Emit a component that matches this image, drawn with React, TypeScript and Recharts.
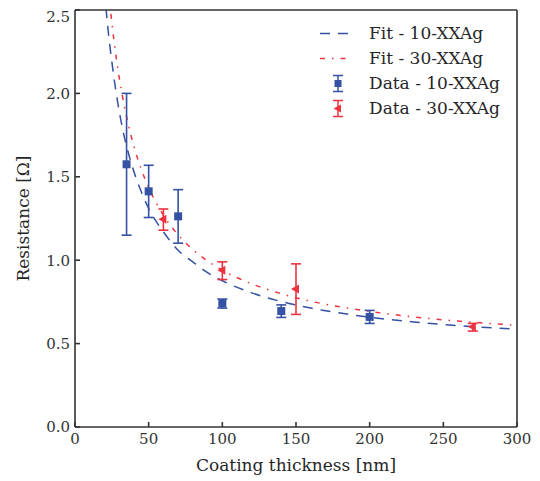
import React from 'react';
import { ComposedChart, Line, Scatter, XAxis, YAxis, ErrorBar, Legend, Label } from 'recharts';

const FONT = '"DejaVu Serif", serif';
const BLUE = '#3451a3';
const RED = '#ec3340';
const AXIS = '#333333';

// Fit curves
const fitX10 = [20, 22, 25, 28, 32, 36, 40, 45, 50, 60, 70, 80, 90, 100, 120, 140, 160, 180, 200, 230, 260, 300];
const fitY10 = [2.62, 2.42, 2.19, 2.0, 1.8, 1.65, 1.53, 1.41, 1.31, 1.17, 1.06, 0.99, 0.925, 0.877, 0.804, 0.752, 0.713, 0.683, 0.658, 0.63, 0.608, 0.586];
const fitX30 = [23, 25, 28, 32, 36, 40, 45, 50, 60, 70, 80, 90, 100, 120, 140, 160, 180, 200, 230, 260, 300];
const fitY30 = [2.6, 2.425, 2.213, 1.992, 1.82, 1.683, 1.545, 1.435, 1.27, 1.152, 1.064, 0.995, 0.94, 0.858, 0.799, 0.754, 0.72, 0.693, 0.66, 0.635, 0.61];

// Measured data
const dataX10 = [35, 50, 70, 100, 140, 200];
const dataY10 = [1.575, 1.413, 1.263, 0.741, 0.695, 0.66];
const errLow10 = [0.425, 0.157, 0.161, 0.028, 0.038, 0.039];
const errHigh10 = [0.425, 0.156, 0.16, 0.026, 0.037, 0.039];

const dataX30 = [60, 100, 150, 270];
const dataY30 = [1.246, 0.94, 0.828, 0.601];
const errLow30 = [0.066, 0.056, 0.153, 0.026];
const errHigh30 = [0.061, 0.05, 0.15, 0.02];

const xTicks = [0, 50, 100, 150, 200, 250, 300];
const yTicks = [0, 0.5, 1.0, 1.5, 2.0, 2.5];

const fit10 = fitX10.map((x, i) => ({ x, y: fitY10[i] }));
const fit30 = fitX30.map((x, i) => ({ x, y: fitY30[i] }));
const data10 = dataX10.map((x, i) => ({ x, y: dataY10[i], err: [errLow10[i], errHigh10[i]] }));
const data30 = dataX30.map((x, i) => ({ x, y: dataY30[i], err: [errLow30[i], errHigh30[i]] }));

const Square = (p: any) => (
  <rect x={p.cx - 4} y={p.cy - 4} width={8} height={8} fill={BLUE} />
);
const Tri = (p: any) => (
  <polygon points={`${p.cx - 5},${p.cy} ${p.cx + 3},${p.cy - 4.5} ${p.cx + 3},${p.cy + 4.5}`} fill={RED} />
);

const legendRows = [
  { kind: 'dash', color: BLUE, label: 'Fit - 10-XXAg' },
  { kind: 'dashdot', color: RED, label: 'Fit - 30-XXAg' },
  { kind: 'square', color: BLUE, label: 'Data - 10-XXAg' },
  { kind: 'tri', color: RED, label: 'Data - 30-XXAg' },
];

const LegendContent = () => (
  <div style={{ fontFamily: FONT, fontSize: 17, color: '#262626' }}>
    {legendRows.map((r) => (
      <div key={r.label} style={{ display: 'flex', alignItems: 'center', height: 25 }}>
        <svg width={51} height={25} style={{ display: 'block' }}>
          {r.kind === 'dash' && (
            <line x1={2} y1={12.5} x2={34} y2={12.5} stroke={r.color} strokeWidth={1.5} strokeDasharray="10 8" />
          )}
          {r.kind === 'dashdot' && (
            <line x1={2} y1={12.5} x2={34} y2={12.5} stroke={r.color} strokeWidth={1.5} strokeDasharray="5 7 1.5 7" />
          )}
          {(r.kind === 'square' || r.kind === 'tri') && (
            <g stroke={r.color} strokeWidth={1.5}>
              <line x1={20} y1={4.5} x2={20} y2={20.5} />
              <line x1={15} y1={4.5} x2={25} y2={4.5} />
              <line x1={15} y1={20.5} x2={25} y2={20.5} />
            </g>
          )}
          {r.kind === 'square' && <rect x={16.5} y={9} width={7} height={7} fill={r.color} />}
          {r.kind === 'tri' && <polygon points="15.5,12.5 23,8.5 23,16.5" fill={r.color} />}
        </svg>
        <span style={{ whiteSpace: 'nowrap', lineHeight: '25px' }}>{r.label}</span>
      </div>
    ))}
  </div>
);

const tickStyle = { fontFamily: FONT, fontSize: 15, fill: AXIS };

export default function App() {
  return (
    <ComposedChart
      width={532}
      height={473}
      margin={{ top: 1, right: 22, bottom: 0, left: 0 }}
      style={{ fontFamily: FONT }}
    >
      <XAxis
        xAxisId={0}
        dataKey="x"
        type="number"
        domain={[0, 300]}
        ticks={xTicks}
        allowDataOverflow
        height={54}
        tickSize={-5}
        tickMargin={11}
        stroke={AXIS}
        strokeWidth={1.6}
        tick={tickStyle}
      >
        <Label
          content={(props: any) => {
            const vb = props.viewBox;
            return (
              <text x={vb.x + vb.width / 2} y={463} textAnchor="middle" fontFamily={FONT} fontSize={17} fill="#262626">
                Coating thickness [nm]
              </text>
            );
          }}
        />
      </XAxis>
      <XAxis
        xAxisId="top"
        orientation="top"
        dataKey="x"
        type="number"
        domain={[0, 300]}
        ticks={xTicks}
        allowDataOverflow
        height={1}
        tickSize={-5}
        tick={false}
        stroke={AXIS}
        strokeWidth={1.6}
      />
      <YAxis
        yAxisId={0}
        type="number"
        domain={[0, 2.5]}
        ticks={yTicks}
        allowDataOverflow
        width={67}
        tickSize={-5}
        tickMargin={10}
        stroke={AXIS}
        strokeWidth={1.6}
        tick={tickStyle}
        tickFormatter={(v: number) => v.toFixed(1)}
      >
        <Label
          content={(props: any) => {
            const vb = props.viewBox;
            const cx = 15;
            const cy = vb.y + vb.height / 2;
            return (
              <text
                x={cx}
                y={cy}
                transform={`rotate(-90, ${cx}, ${cy})`}
                textAnchor="middle"
                dominantBaseline="central"
                fontFamily={FONT}
                fontSize={17}
                fill="#262626"
              >
                Resistance [Ω]
              </text>
            );
          }}
        />
      </YAxis>
      <YAxis
        yAxisId="right"
        orientation="right"
        type="number"
        domain={[0, 2.5]}
        ticks={yTicks}
        allowDataOverflow
        width={1}
        tickSize={-5}
        tick={false}
        stroke={AXIS}
        strokeWidth={1.6}
      />
      <Line
        data={fit10}
        dataKey="y"
        type="monotone"
        stroke={BLUE}
        strokeWidth={1.5}
        strokeDasharray="10 8"
        dot={false}
        activeDot={false}
        isAnimationActive={false}
      />
      <Line
        data={fit30}
        dataKey="y"
        type="monotone"
        stroke={RED}
        strokeWidth={1.5}
        strokeDasharray="5 7 1.5 7"
        dot={false}
        activeDot={false}
        isAnimationActive={false}
      />
      <Scatter data={data10} dataKey="y" shape={Square} isAnimationActive={false}>
        <ErrorBar dataKey="err" direction="y" width={5} stroke={BLUE} strokeWidth={1.6} />
      </Scatter>
      <Scatter data={data30} dataKey="y" shape={Tri} isAnimationActive={false}>
        <ErrorBar dataKey="err" direction="y" width={5} stroke={RED} strokeWidth={1.6} />
      </Scatter>
      <Legend
        layout="vertical"
        align="center"
        verticalAlign="middle"
        content={LegendContent}
        wrapperStyle={{ position: 'absolute', top: 13, left: 310, width: 210, height: 100 }}
      />
    </ComposedChart>
  );
}
